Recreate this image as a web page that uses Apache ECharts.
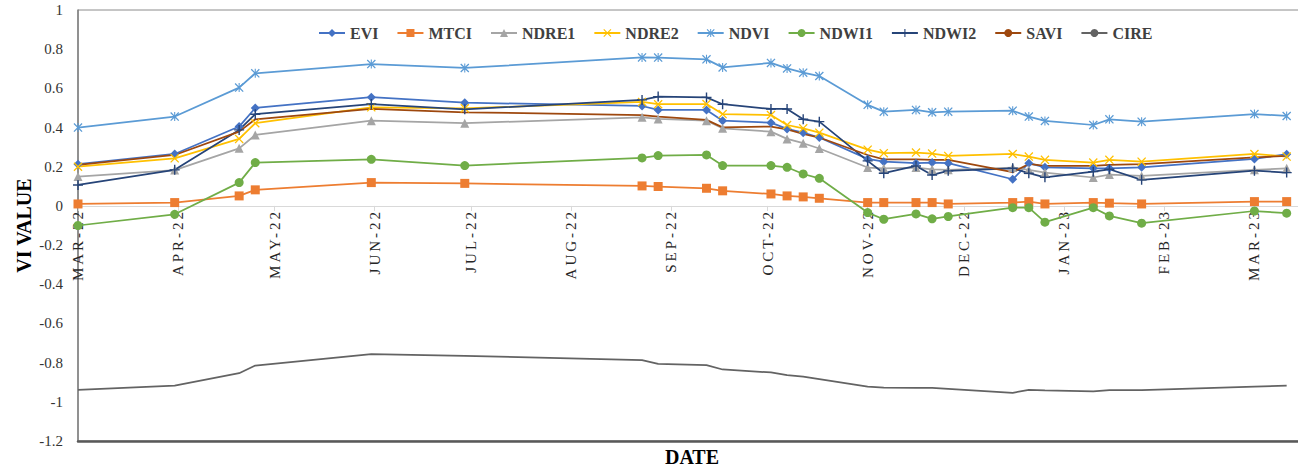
<!DOCTYPE html>
<html>
<head>
<meta charset="utf-8">
<script src="https://cdn.jsdelivr.net/npm/echarts@6/dist/echarts.min.js"></script>
<style>
  html, body { margin: 0; padding: 0; background: #ffffff; }
  #chart { width: 1298px; height: 471px; }
  /* spaced capitals on the month labels of the date axis */
  #chart text[style*="Times New Roman"] { letter-spacing: 3px; }
</style>
</head>
<body>
<div id="chart"></div>
<script>
// Acquisition dates
const dates = [
  '2022-03-01', '2022-03-31', '2022-04-20', '2022-04-25', '2022-05-31', '2022-06-29',
  '2022-08-23', '2022-08-28', '2022-09-12', '2022-09-17', '2022-10-02', '2022-10-07',
  '2022-10-12', '2022-10-17', '2022-11-01', '2022-11-06', '2022-11-16', '2022-11-21',
  '2022-11-26', '2022-12-16', '2022-12-21', '2022-12-26', '2023-01-10', '2023-01-15',
  '2023-01-25', '2023-03-01', '2023-03-11'
];

// Vegetation index values per date
const EVI   = [0.213, 0.265, 0.405, 0.500, 0.555, 0.527, 0.510, 0.490, 0.490, 0.435, 0.425, 0.393, 0.374, 0.349, 0.240, 0.226, 0.218, 0.221, 0.218, 0.136, 0.218, 0.197, 0.192, 0.192, 0.197, 0.240, 0.264];
const MTCI  = [0.010, 0.017, 0.051, 0.082, 0.119, 0.115, 0.102, 0.099, 0.090, 0.077, 0.061, 0.051, 0.046, 0.039, 0.017, 0.017, 0.017, 0.017, 0.010, 0.017, 0.022, 0.010, 0.017, 0.014, 0.010, 0.022, 0.022];
const NDRE1 = [0.150, 0.183, 0.294, 0.362, 0.435, 0.422, 0.452, 0.444, 0.435, 0.396, 0.379, 0.342, 0.320, 0.293, 0.196, 0.192, 0.196, 0.187, 0.184, 0.196, 0.184, 0.170, 0.145, 0.160, 0.153, 0.184, 0.192];
const NDRE2 = [0.200, 0.243, 0.342, 0.422, 0.503, 0.498, 0.531, 0.519, 0.520, 0.469, 0.464, 0.413, 0.396, 0.374, 0.287, 0.269, 0.272, 0.267, 0.255, 0.265, 0.252, 0.235, 0.221, 0.235, 0.226, 0.265, 0.252];
const NDVI  = [0.400, 0.456, 0.604, 0.677, 0.724, 0.704, 0.758, 0.757, 0.748, 0.707, 0.730, 0.702, 0.680, 0.663, 0.516, 0.481, 0.490, 0.478, 0.481, 0.486, 0.456, 0.434, 0.413, 0.442, 0.430, 0.469, 0.459];
const NDWI1 = [-0.100, -0.043, 0.119, 0.221, 0.238, 0.206, 0.245, 0.257, 0.260, 0.206, 0.206, 0.197, 0.163, 0.141, -0.034, -0.068, -0.041, -0.066, -0.054, -0.009, -0.009, -0.083, -0.009, -0.051, -0.088, -0.026, -0.037];
const NDWI2 = [0.107, 0.184, 0.388, 0.468, 0.520, 0.493, 0.541, 0.558, 0.554, 0.519, 0.495, 0.495, 0.442, 0.430, 0.230, 0.167, 0.204, 0.158, 0.179, 0.192, 0.167, 0.146, 0.175, 0.187, 0.133, 0.180, 0.170];
const SAVI  = [0.209, 0.260, 0.379, 0.442, 0.495, 0.478, 0.464, 0.456, 0.439, 0.401, 0.405, 0.391, 0.367, 0.349, 0.260, 0.238, 0.238, 0.235, 0.235, 0.172, 0.214, 0.204, 0.204, 0.209, 0.213, 0.248, 0.255];
const CIRE  = [-0.939, -0.917, -0.854, -0.815, -0.757, -0.765, -0.787, -0.806, -0.813, -0.835, -0.850, -0.864, -0.871, -0.884, -0.922, -0.927, -0.929, -0.929, -0.934, -0.954, -0.939, -0.942, -0.947, -0.940, -0.940, -0.922, -0.917];

// Month names for the date axis labels
const MONTH_LABELS = ['JAN', 'FEB', 'MAR', 'APR', 'MAY', 'JUN', 'JUL', 'AUG', 'SEP', 'OCT', 'NOV', 'DEC'];

// Value range of the VI axis
const Y_MIN = -1.2;
const Y_MAX = 1;
const Y_STEP = 0.2;

const SERIF = '"Liberation Serif", serif';
const SERIF_SPACED = '"Liberation Serif", "Times New Roman", serif';

// Marker shapes
const X_PATH = 'path://M1,0L5,4L9,0L10,1L6,5L10,9L9,10L5,6L1,10L0,9L4,5L0,1Z';
const STAR_PATH = 'path://M1,0L5,4L9,0L10,1L6,5L10,9L9,10L5,6L1,10L0,9L4,5L0,1Z M4.4,0H5.6V10H4.4Z';
const PLUS_PATH = 'path://M4.3,0H5.7V4.3H10V5.7H5.7V10H4.3V5.7H0V4.3H4.3Z';

function lineSeries(name, values, color, symbol, size) {
  return {
    name: name,
    type: 'line',
    xAxisIndex: 0,
    yAxisIndex: 0,
    data: dates.map((d, i) => [d, values[i]]),
    symbol: symbol || 'none',
    showSymbol: !!symbol,
    symbolSize: size || 0,
    lineStyle: { color: color, width: 1.75 },
    itemStyle: { color: color },
    emphasis: { disabled: true },
    silent: true
  };
}

const series = [
  lineSeries('EVI', EVI, '#4472C4', 'diamond', 9),
  lineSeries('MTCI', MTCI, '#ED7D31', 'rect', 9),
  lineSeries('NDRE1', NDRE1, '#A5A5A5', 'triangle', 9),
  lineSeries('NDRE2', NDRE2, '#FFC000', X_PATH, 9),
  lineSeries('NDVI', NDVI, '#5B9BD5', STAR_PATH, 9),
  lineSeries('NDWI1', NDWI1, '#70AD47', 'circle', 9),
  lineSeries('NDWI2', NDWI2, '#264478', PLUS_PATH, 10),
  lineSeries('SAVI', SAVI, '#9E480E'),
  lineSeries('CIRE', CIRE, '#636363')
];

const DAY = 24 * 3600 * 1000;

const option = {
  animation: false,
  backgroundColor: '#ffffff',
  grid: {
    left: 78, right: -8, top: 10, bottom: 30,
    show: true, borderColor: '#8c8c8c', borderWidth: 1,
    containLabel: false, outerBoundsMode: 'none'
  },
  legend: {
    left: 313, top: 20,
    itemWidth: 26, itemHeight: 10, itemGap: 18,
    data: series.map(s => s.name),
    textStyle: { fontFamily: SERIF, fontWeight: 'bold', fontSize: 16, color: '#404040' }
  },
  xAxis: [
    {
      // date axis, crossing the VI axis at zero
      type: 'time',
      position: 'bottom',
      min: '2022-03-01',
      max: '2023-03-17',
      minInterval: 28 * DAY,
      maxInterval: 31 * DAY,
      offset: 0,
      axisLine: { onZero: false, lineStyle: { color: '#d9d9d9', width: 1 } },
      axisTick: { show: true, length: 5, lineStyle: { color: '#d9d9d9' } },
      axisLabel: {
        rotate: 90,
        margin: 3,
        fontFamily: SERIF_SPACED,
        fontSize: 15,
        color: '#262626',
        showMinLabel: true,
        showMaxLabel: false,
        hideOverlap: false,
        formatter: function (value) {
          const d = new Date(value);
          return MONTH_LABELS[d.getMonth()] + '-' + String(d.getFullYear()).slice(2);
        }
      },
      splitLine: { show: false }
    },
    {
      // heavy base of the plot frame, carrying the axis title
      type: 'value',
      position: 'bottom',
      min: 0, max: 1,
      axisLine: { show: true, onZero: false, lineStyle: { color: '#595959', width: 2.5 } },
      axisTick: { show: false },
      axisLabel: { show: false },
      splitLine: { show: false },
      name: 'DATE',
      nameLocation: 'middle',
      nameGap: 6,
      nameMoveOverlap: false,
      nameTextStyle: { fontFamily: SERIF, fontWeight: 'bold', fontSize: 20, color: '#000000' }
    }
  ],
  yAxis: {
    type: 'value',
    min: Y_MIN, max: Y_MAX, interval: Y_STEP,
    axisLine: { show: true, onZero: false, lineStyle: { color: '#7f7f7f', width: 1.5 } },
    axisTick: { show: false },
    splitLine: { show: false },
    axisLabel: { margin: 15, fontFamily: SERIF, fontSize: 15, color: '#333333' },
    name: 'VI VALUE',
    nameLocation: 'middle',
    nameGap: 44,
    nameMoveOverlap: false,
    nameTextStyle: { fontFamily: SERIF, fontWeight: 'bold', fontSize: 20, color: '#000000' }
  },
  series: series
};

const chart = echarts.init(document.getElementById('chart'), null, { renderer: 'svg' });
chart.setOption(option);

// lift the date axis from the frame base up to the zero line of the VI scale
const zeroPx = chart.convertToPixel({ yAxisIndex: 0 }, 0);
const basePx = chart.convertToPixel({ yAxisIndex: 0 }, Y_MIN);
chart.setOption({ xAxis: [{ offset: zeroPx - basePx }] });
</script>
</body>
</html>
